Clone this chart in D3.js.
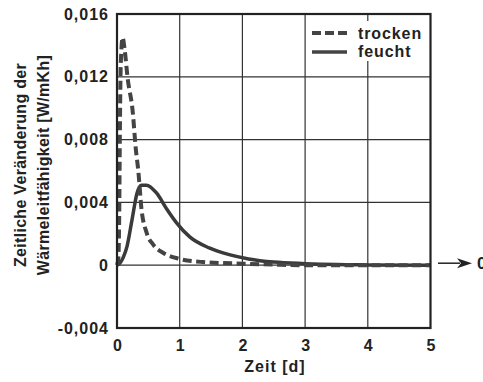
<!DOCTYPE html>
<html>
    <head>
        <meta charset="utf-8"/>
        <title>Waermeleitfaehigkeit</title>
        <script src="https://d3js.org/d3.v7.min.js"></script>
        <style>
            body { margin: 0; background: #fff; }
            svg text {
                font-family: "Liberation Sans", Arial, sans-serif;
                font-weight: bold;
                fill: #222;
            }
        </style>
    </head>

    <body>
        <svg id="chart" width="483" height="382"></svg>

        <script>
            // data
            var xTicks = [0, 1, 2, 3, 4, 5];
            var yTicks = [-0.004, 0, 0.004, 0.008, 0.012, 0.016];
            var yTickLabels = ["-0,004", "0", "0,004", "0,008", "0,012", "0,016"];

            var trockenT = [0, 0.02, 0.035, 0.045, 0.06, 0.09, 0.12, 0.17, 0.25, 0.3, 0.34, 0.39, 0.47, 0.58, 0.74, 1.0, 1.37, 2.0, 2.5, 3, 4, 5];
            var trockenV = [0, 0.0004, 0.003, 0.008, 0.0128, 0.0145, 0.0138, 0.0119, 0.0098, 0.0074, 0.006, 0.0036, 0.0021, 0.0013, 0.00078, 0.0004, 0.0002, 0.0001, 0.00004, 0, 0, 0];

            var feuchtT = [0, 0.05, 0.1, 0.16, 0.24, 0.32, 0.39, 0.47, 0.63, 0.79, 0.95, 1.16, 1.47, 1.79, 2.1, 2.5, 3, 3.5, 4, 5];
            var feuchtV = [0, 0.00015, 0.0005, 0.0012, 0.0029, 0.0046, 0.0051, 0.0051, 0.0046, 0.0036, 0.0027, 0.0018, 0.0011, 0.00067, 0.0004, 0.0002, 0.0001, 0.00004, 0.00002, 0];

            var seriesNames = ["trocken", "feucht"];

            // careful: "top" is taken by window.top
            var plotLeft = 117, plotRight = 430.5, plotTop = 14, plotBottom = 328;
            var svg = d3.select("#chart");

            var x = d3.scaleLinear().domain([0, 5]).range([plotLeft, plotRight]);
            var y = d3.scaleLinear().domain([-0.004, 0.016]).range([plotBottom, plotTop]);

            // grid
            svg.append("g").selectAll("line")
                .data(xTicks.slice(1, -1))
                .enter().append("line")
                .attr("x1", function(d){ return x(d); })
                .attr("x2", function(d){ return x(d); })
                .attr("y1", plotTop).attr("y2", plotBottom)
                .attr("stroke", "#333").attr("stroke-width", 1.2);

            svg.append("g").selectAll("line")
                .data(yTicks.slice(1, -1))
                .enter().append("line")
                .attr("x1", plotLeft).attr("x2", plotRight)
                .attr("y1", function(d){ return y(d); })
                .attr("y2", function(d){ return y(d); })
                .attr("stroke", "#333").attr("stroke-width", 1.2);

            // legend background hides the grid behind it
            svg.append("rect")
                .attr("x", 306).attr("y", 21)
                .attr("width", 122).attr("height", 40)
                .attr("fill", "#fff");

            // curves
            function makeLine(ts, vs) {
                return d3.line()
                    .x(function(d, i){ return x(ts[i]); })
                    .y(function(d, i){ return y(vs[i]); })
                    .curve(d3.curveMonotoneX)(vs);
            }

            svg.append("path")
                .attr("d", makeLine(feuchtT, feuchtV))
                .attr("fill", "none")
                .attr("stroke", "#3a3a3a")
                .attr("stroke-width", 3.5);

            svg.append("path")
                .attr("d", makeLine(trockenT, trockenV))
                .attr("fill", "none")
                .attr("stroke", "#444")
                .attr("stroke-width", 4)
                .attr("stroke-dasharray", "9,4.5");

            // frame
            svg.append("rect")
                .attr("x", plotLeft).attr("y", plotTop)
                .attr("width", plotRight - plotLeft).attr("height", plotBottom - plotTop)
                .attr("fill", "none")
                .attr("stroke", "#222").attr("stroke-width", 2.2);

            // axes (labels only)
            var yAxis = d3.axisLeft(y)
                .tickValues(yTicks)
                .tickSize(0)
                .tickPadding(8)
                .tickFormat(function(d, i){ return yTickLabels[i]; });
            var gy = svg.append("g").attr("transform", "translate(" + plotLeft + ",0)").call(yAxis);
            gy.select(".domain").remove();
            gy.selectAll("text")
                .style("font-size", "16px")
                .style("letter-spacing", "1px")
                .attr("fill", "#222");

            var xAxis = d3.axisBottom(x)
                .tickValues(xTicks)
                .tickSize(0)
                .tickPadding(12)
                .tickFormat(d3.format("d"));
            var gx = svg.append("g").attr("transform", "translate(0," + plotBottom + ")").call(xAxis);
            gx.select(".domain").remove();
            gx.selectAll("text")
                .style("font-size", "16px")
                .attr("fill", "#222");

            // axis titles
            svg.append("text")
                .attr("x", 275).attr("y", 372)
                .attr("text-anchor", "middle")
                .style("font-size", "16px")
                .style("letter-spacing", "1px")
                .text("Zeit [d]");

            var yTitle = svg.append("text")
                .attr("transform", "translate(0,165) rotate(-90)")
                .attr("text-anchor", "middle")
                .style("font-size", "16px")
                .style("letter-spacing", "0.3px");
            yTitle.append("tspan").attr("x", 0).attr("y", 26).text("Zeitliche Veränderung der");
            yTitle.append("tspan").attr("x", 0).attr("y", 49).text("Wärmeleitfähigkeit [W/mKh]");

            // legend
            var legend = svg.append("g");
            legend.selectAll("line")
                .data(seriesNames)
                .enter().append("line")
                .attr("x1", 312).attr("x2", 347)
                .attr("y1", function(d, i){ return 33 + i * 19; })
                .attr("y2", function(d, i){ return 33 + i * 19; })
                .attr("stroke", "#444")
                .attr("stroke-width", function(d, i){ return i == 0 ? 4 : 3.5; })
                .attr("stroke-dasharray", function(d, i){ return i == 0 ? "9,4" : null; });
            legend.selectAll("text")
                .data(seriesNames)
                .enter().append("text")
                .attr("x", 358)
                .attr("y", function(d, i){ return 38.5 + i * 18; })
                .style("font-size", "16px")
                .style("letter-spacing", "0.9px")
                .text(function(d){ return d; });

            // arrow pointing out of the chart on the zero line
            var y0 = y(0) - 2;
            svg.append("line")
                .attr("x1", 438).attr("x2", 460)
                .attr("y1", y0).attr("y2", y0)
                .attr("stroke", "#222").attr("stroke-width", 1.5);
            svg.append("path")
                .attr("d", "M457," + (y0 - 5) + " L472," + y0 + " L457," + (y0 + 5) + " L461," + y0 + " Z")
                .attr("fill", "#222");
            svg.append("text")
                .attr("x", 477).attr("y", y0)
                .attr("dominant-baseline", "central")
                .style("font-size", "17px")
                .text("0");
        </script>
    </body>
</html>
